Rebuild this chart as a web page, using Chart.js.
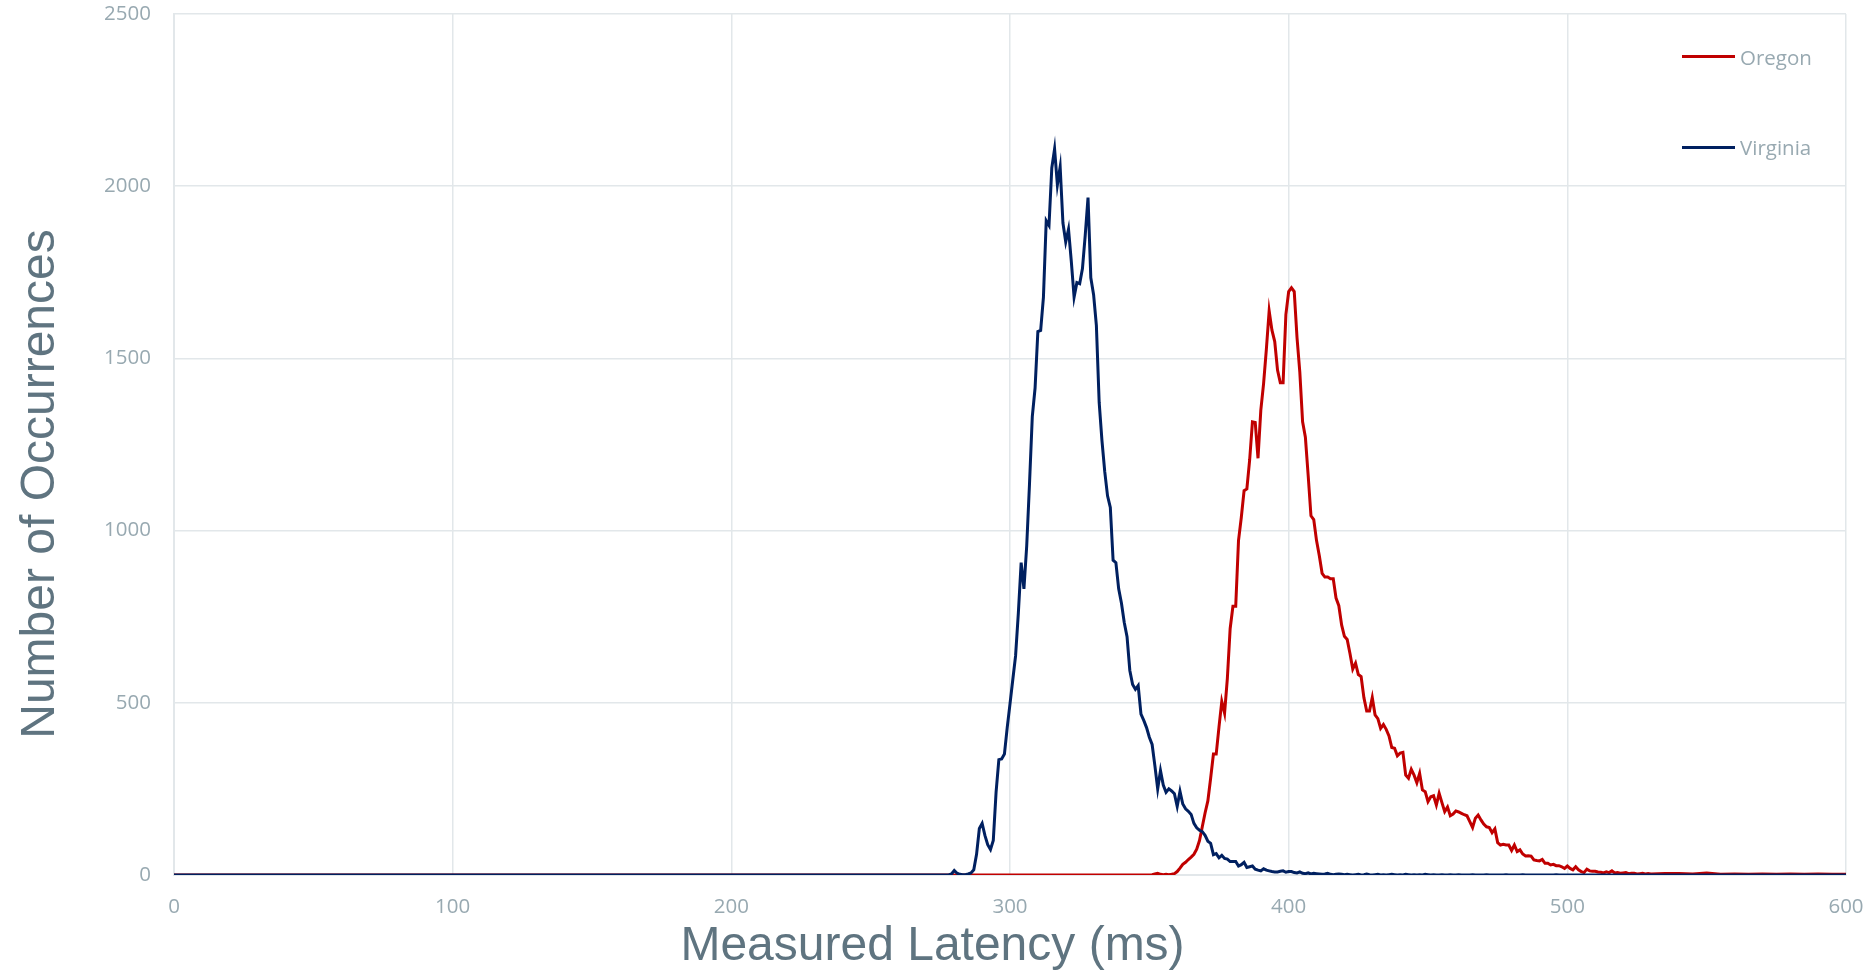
<!DOCTYPE html>
<html>
<head>
<meta charset="utf-8">
<title>Measured Latency</title>
<script src="https://cdn.jsdelivr.net/npm/chart.js@4.4.1/dist/chart.umd.min.js"></script>
<style>
  body { margin: 0; background: #fff; }
  #wrap { position: relative; width: 1865px; height: 973px; }
  #xTitle {
    position: absolute; left: 0; top: 920px; width: 1865px; height: 48px;
    text-align: center; line-height: 48px;
    font-family: "Liberation Sans", Arial, sans-serif; font-size: 48px; color: #5f7480;
  }
  #yTitle {
    position: absolute; left: -261.6px; top: 460px; width: 600px; height: 48px;
    text-align: center; line-height: 48px; transform: rotate(-90deg);
    font-family: "Liberation Sans", Arial, sans-serif; font-size: 48px; color: #5f7480;
  }
  .legend-item {
    position: absolute; left: 1682px; height: 24px; display: flex; align-items: center;
    font-family: "Open Sans", sans-serif; font-size: 20.5px; line-height: 24px; color: #98a9b1;
  }
  .legend-item .swatch { width: 53px; height: 3px; margin-right: 5px; }
</style>
</head>
<body>
<div id="wrap">
  <canvas id="latencyChart" width="1865" height="973"></canvas>
  <div id="xTitle">Measured Latency (ms)</div>
  <div id="yTitle">Number of Occurrences</div>
  <div class="legend-item" style="top:44.5px"><span class="swatch" style="background:#c00000"></span>Oregon</div>
  <div class="legend-item" style="top:135px"><span class="swatch" style="background:#002060"></span>Virginia</div>
</div>
<script>
// latency bins in ms (x axis)
const latency = [0,
  276,277,278,279,280,281,282,283,284,285,
  286,287,288,289,290,291,292,293,294,295,
  296,297,298,299,300,301,302,303,304,305,
  306,307,308,309,310,311,312,313,314,315,
  316,317,318,319,320,321,322,323,324,325,
  326,327,328,329,330,331,332,333,334,335,
  336,337,338,339,340,341,342,343,344,345,
  346,347,348,349,350,351,352,353,354,355,
  356,357,358,359,360,361,362,363,364,365,
  366,367,368,369,370,371,372,373,374,375,
  376,377,378,379,380,381,382,383,384,385,
  386,387,388,389,390,391,392,393,394,395,
  396,397,398,399,400,401,402,403,404,405,
  406,407,408,409,410,411,412,413,414,415,
  416,417,418,419,420,421,422,423,424,425,
  426,427,428,429,430,431,432,433,434,435,
  436,437,438,439,440,441,442,443,444,445,
  446,447,448,449,450,451,452,453,454,455,
  456,457,458,459,460,461,462,463,464,465,
  466,467,468,469,470,471,472,473,474,475,
  476,477,478,479,480,481,482,483,484,485,
  486,487,488,489,490,491,492,493,494,495,
  496,497,498,499,500,501,502,503,504,505,
  506,507,508,509,510,511,512,513,514,515,
  516,517,518,519,520,521,522,523,524,525,
  526,527,528,529,530,
  535,540,545,550,555,560,565,570,575,580,585,590,595,600];

const oregon = [0,
  0,0,0,0,0,0,0,0,0,0,
  0,0,0,0,0,0,0,0,0,0,
  0,0,0,0,0,0,0,0,0,0,
  0,0,0,0,0,0,0,0,0,0,
  0,0,0,0,0,0,0,0,0,0,
  0,0,0,0,0,0,0,0,0,0,
  0,0,0,0,0,0,0,0,0,0,
  0,0,0,0,0,1,3,5,2,1,
  2,1,2,4,10,20,31,37,45,52,
  60,75,100,140,180,215,281,351,351,430,
  504,470,571,715,780,780,971,1038,1116,1121,
  1205,1316,1314,1210,1349,1427,1527,1638,1582,1549,
  1466,1429,1429,1627,1694,1705,1694,1560,1460,1316,
  1271,1160,1043,1032,971,927,876,865,865,860,
  860,804,782,726,693,684,643,598,615,582,
  576,515,476,476,515,465,454,426,437,423,
  404,370,368,346,354,356,290,281,307,290,
  268,295,247,242,213,227,230,203,237,210,
  184,197,172,177,186,183,179,175,172,155,
  138,165,174,160,148,140,138,123,134,94,
  87,89,87,87,71,87,68,73,61,55,
  56,55,44,42,41,45,34,34,29,31,
  27,27,24,19,26,19,15,24,15,10,
  7,17,12,11,11,9,8,6,9,7,
  12,6,7,5,6,7,4,5,5,3,
  4,5,3,4,3,
  4,4,3,6,2,3,2,3,2,3,2,3,2,2];

const virginia = [0,
  0,0,0,3,13,5,2,1,1,3,
  6,15,60,135,150,115,88,74,100,240,
  335,337,351,428,497,567,636,761,907,831,
  956,1136,1331,1414,1578,1581,1678,1900,1886,2053,
  2108,2004,2056,1893,1838,1875,1782,1678,1720,1717,
  1761,1858,1967,1734,1685,1595,1372,1261,1171,1101,
  1067,914,907,831,789,733,692,594,553,539,
  550,467,449,428,400,379,317,250,303,261,
  240,250,244,236,199,243,206,192,185,176,
  150,137,130,126,115,98,92,59,62,50,
  57,48,46,39,39,39,26,30,37,22,
  24,26,17,14,12,18,14,12,10,9,
  9,11,12,8,10,10,7,6,9,5,
  4,6,3,5,4,3,2,3,5,2,
  1,2,3,2,1,2,1,0,1,2,
  0,1,3,1,0,1,2,0,1,0,
  1,2,1,0,1,0,2,1,0,1,
  0,1,0,2,1,0,1,0,0,1,
  0,0,1,0,0,1,0,0,0,0,
  1,0,0,0,0,1,0,0,0,0,
  0,0,1,0,0,0,0,0,1,0,
  0,0,0,0,0,0,0,0,0,0,
  1,0,0,0,0,0,0,0,0,0,
  0,0,0,0,0,0,0,0,0,0,
  0,0,0,0,0,0,0,0,0,0,
  0,0,0,0,0,
  0,0,0,0,0,0,0,0,0,0,0,0,0,0];

const xTicks = [0, 100, 200, 300, 400, 500, 600];
const yTicks = [0, 500, 1000, 1500, 2000, 2500];

const tickColor = '#98a9b1';
const gridColor = '#e2e7ea';

function toPoints(values) {
    return latency.map((x, i) => ({ x: x, y: values[i] }));
}

const ctx = document.getElementById('latencyChart').getContext('2d');

new Chart(ctx, {
    type: 'line',
    data: {
        datasets: [{
            label: 'Oregon',
            data: toPoints(oregon),
            borderColor: '#c00000',
            borderWidth: 3,
            pointRadius: 0,
            tension: 0,
            order: 1
        }, {
            label: 'Virginia',
            data: toPoints(virginia),
            borderColor: '#002060',
            borderWidth: 3,
            pointRadius: 0,
            tension: 0,
            order: 0
        }]
    },
    options: {
        responsive: false,
        animation: false,
        devicePixelRatio: 1,
        layout: { padding: { top: 14, right: 19, left: 0, bottom: 0 } },
        plugins: {
            legend: { display: false },
            tooltip: { enabled: false }
        },
        scales: {
            x: {
                type: 'linear',
                min: xTicks[0],
                max: xTicks[xTicks.length - 1],
                afterBuildTicks: (scale) => { scale.ticks = xTicks.map(v => ({ value: v })); },
                afterFit: (scale) => {
                    scale.height = 98;
                    scale.paddingLeft = 0;   // keep chart area fixed, labels may overflow
                    scale.paddingRight = 0;
                },
                grid: { color: gridColor, lineWidth: 1.5, drawTicks: false },
                border: { color: gridColor, width: 2 },
                ticks: {
                    padding: 20,
                    color: tickColor,
                    maxRotation: 0,
                    callback: (v) => String(v),
                    font: { family: "'Open Sans'", size: 20.5 }
                }
            },
            y: {
                min: yTicks[0],
                max: yTicks[yTicks.length - 1],
                afterBuildTicks: (scale) => { scale.ticks = yTicks.map(v => ({ value: v })); },
                afterFit: (scale) => {
                    scale.width = 174;
                    scale.paddingTop = 0;
                    scale.paddingBottom = 0;
                },
                grid: { color: gridColor, lineWidth: 1.5, drawTicks: false },
                border: { color: gridColor, width: 2 },
                ticks: {
                    padding: 23,
                    color: tickColor,
                    callback: (v) => String(v),
                    font: { family: "'Open Sans'", size: 20.5 }
                }
            }
        }
    }
});
</script>
</body>
</html>
